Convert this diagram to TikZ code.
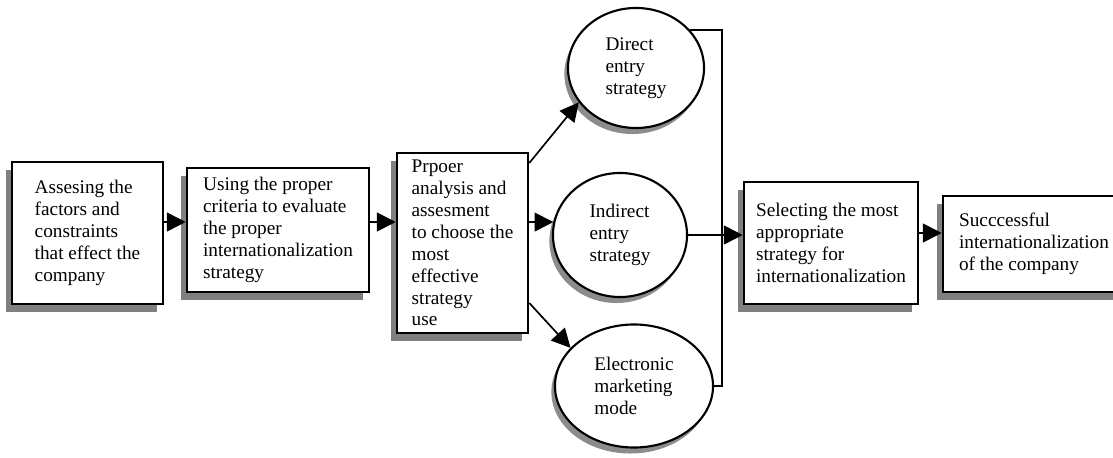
\documentclass[tikz,border=0pt]{standalone}
\usepackage{fontspec}
\setmainfont{Liberation Serif}
\usetikzlibrary{shapes.geometric,shadows,arrows.meta}

\begin{document}
\begin{tikzpicture}[x=0.025cm,y=-0.025cm,
  txt/.style={align=left,inner sep=0pt,fill=white,
    font=\fontsize{13.7pt}{15.6pt}\selectfont},
  box/.style={txt,draw,line width=1.8pt,
    drop shadow={shadow xshift=-0.16cm,shadow yshift=-0.2cm,fill=black!50,opacity=1}},
  oval/.style={txt,ellipse,draw,line width=1.5pt,
    drop shadow={shadow xshift=-0.09cm,shadow yshift=-0.15cm,fill=black!45,opacity=1}},
  link/.style={line width=1.2pt},
  arr/.style={link,-{Triangle[length=0.47cm,width=0.47cm]}}]
\useasboundingbox (0,0) rectangle (1113,458);
\clip (0,0) rectangle (1113,458);
\node[box,minimum width=3.775cm,minimum height=3.55cm] (assess) at (87.5,233) {Assesing the\\factors and\\constraints\\that effect the\\company};
\node[box,minimum width=4.55cm,minimum height=3.1cm] (criteria) at (278,230) {Using the proper\\criteria to evaluate\\the proper\\internationalization\\strategy};
\node[box,minimum width=3.275cm,minimum height=4.5cm] (analysis) at (462.5,243) {Prpoer\\analysis and\\assesment\\to choose the\\most\\effective\\strategy\\use};
\node[oval,minimum width=3.4cm,minimum height=3.0cm] (direct) at (636,68) {Direct\\entry\\strategy};
\node[oval,minimum width=3.35cm,minimum height=3.1cm] (indirect) at (620,235) {Indirect\\entry\\strategy};
\node[oval,minimum width=3.95cm,minimum height=3.075cm] (electronic) at (634,386) {Electronic\\marketing\\mode};
\node[box,minimum width=4.35cm,minimum height=3.05cm] (selecting) at (831,243) {Selecting the most\\appropriate\\strategy for\\internationalization};
\node[box,minimum width=4.55cm,minimum height=2.4cm] (success) at (1034,244) {Succcessful\\internationalization\\of the company};
\coordinate (merge) at (722,235);
% connectors
\draw[arr] (assess.east |- 0,222) -- (criteria.west |- 0,222);
\draw[arr] (criteria.east |- 0,222) -- (analysis.west |- 0,222);
\draw[arr] (analysis.east |- indirect.169) -- (indirect.169);
\draw[arr] (analysis.east |- 0,163) -- (direct.211);
\draw[arr] (analysis.east |- 0,303) -- (electronic.149);
\draw[link] (direct.35) -| (merge) |- (electronic.east);
\draw[arr] (indirect.east) -- (indirect.east -| selecting.west);
\draw[arr] (selecting.east |- 0,233) -- (success.west |- 0,233);
\end{tikzpicture}
\end{document}
